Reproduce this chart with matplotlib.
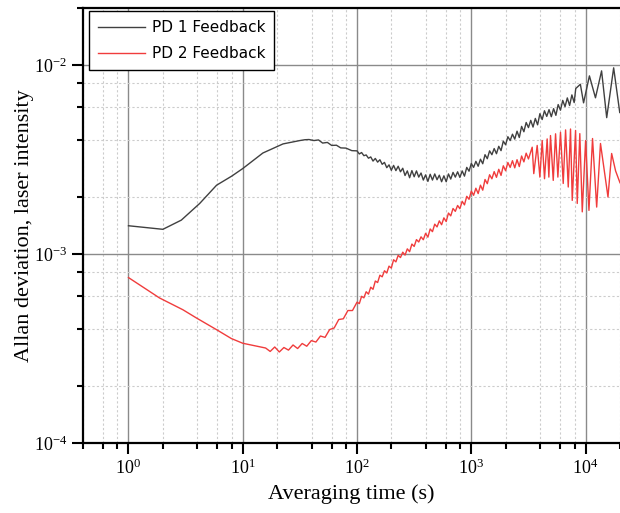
import numpy as np
import matplotlib
matplotlib.use("Agg")
import matplotlib.pyplot as plt
from matplotlib.ticker import LogLocator, NullFormatter

plt.rcParams['mathtext.fontset'] = 'custom'
plt.rcParams['mathtext.rm'] = 'Liberation Serif'
plt.rcParams['mathtext.it'] = 'Liberation Serif:italic'

# ---- data ----
mid_tau = [100, 104.7, 109.6, 114.8, 120.2, 125.9, 131.8, 138.0, 144.5, 151.4,
           158.5, 166.0, 173.8, 182.0, 190.5, 199.5, 208.9, 218.8, 229.1, 239.9,
           251.2, 263.0, 275.4, 288.4, 302.0, 316.2, 331.1, 346.7, 363.1, 380.2,
           398.1, 416.9, 436.5, 457.1, 478.6, 501.2, 524.8, 549.5, 575.4, 602.6,
           631.0, 660.7, 691.8, 724.4, 758.6, 794.3, 831.8, 871.0, 912.0, 955.0,
           1000, 1047, 1096, 1148, 1202, 1259, 1318, 1380, 1445, 1514,
           1585, 1660, 1738, 1820, 1905, 1995, 2089, 2188, 2291, 2399,
           2512, 2630, 2754, 2884, 3020, 3162, 3311, 3467, 3631, 3802,
           3981, 4169, 4365, 4571, 4786, 5012, 5248, 5495, 5754, 6026,
           6310, 6607, 6918, 7244, 7586, 7943]

pd1_tau_a = [1, 2, 2.9, 4.2, 5.9, 8, 10, 15, 22.5, 31.6, 35, 38, 42, 46, 50, 55, 60, 66, 72, 80, 90]
pd1_val_a = [14.1, 13.5, 15.1, 18.5, 23.1, 25.8, 28.3, 34.2, 38.2, 39.8, 40.2, 40.3, 39.8, 40.1, 38.6,
             38.9, 37.5, 37.6, 36.4, 36.3, 35.2]
pd1_val_b = [35.1, 33.8, 34.4, 33.1, 33.4, 32.1, 32.6, 31.0, 32.0, 30.6,
             31.5, 29.8, 30.5, 28.6, 29.6, 27.7, 29.4, 27.6, 29.1, 27.2,
             28.4, 26.0, 27.5, 25.3, 27.6, 25.6, 27.5, 25.5, 26.8, 24.6,
             26.2, 24.2, 26.4, 24.6, 26.5, 24.7, 26.1, 24.1, 25.9, 24.1,
             26.5, 24.9, 27.0, 25.5, 27.2, 25.4, 27.5, 25.8, 28.7, 27.4,
             30.1, 28.7, 30.9, 29.1, 31.7, 30.0, 33.5, 31.9, 35.1, 33.5,
             36.1, 33.9, 37.1, 35.2, 39.5, 37.8, 41.7, 39.8, 43.0, 40.5,
             44.6, 41.3, 47.3, 44.3, 49.6, 46.6, 50.9, 46.9, 52.1, 48.2,
             55.2, 51.4, 57.2, 53.4, 58.0, 53.2, 58.7, 54.1, 61.7, 57.6,
             64.9, 60.1, 66.9, 61.0, 69.4, 63.2]
pd1_tau_c = [8200, 9000, 9600, 10800, 12200, 13800, 15300, 17600, 19900]
pd1_val_c = [75.0, 79.0, 63.0, 87.5, 67.0, 93.0, 52.6, 96.5, 56.0]

pd2_tau_a = [1, 1.87, 2.99, 3.92, 5.88, 7.94, 10, 14.1,
             15.85, 17.38, 19.05, 20.89, 22.91, 25.12, 27.54, 30.20, 33.11, 36.31, 39.81, 43.65,
             47.86, 52.48, 57.54, 63.10, 69.18, 75.86, 83.18, 91.20]
pd2_val_a = [7.5, 5.85, 5.07, 4.59, 3.98, 3.57, 3.37, 3.23,
             3.18, 3.05, 3.22, 3.03, 3.20, 3.10, 3.30, 3.16, 3.36, 3.25, 3.48, 3.42,
             3.68, 3.62, 3.98, 4.06, 4.50, 4.54, 5.02, 5.02]
pd2_val_b = [5.56, 5.46, 5.97, 5.86, 6.31, 6.13, 6.67, 6.50, 7.19, 7.06,
             7.72, 7.57, 8.15, 7.93, 8.62, 8.42, 9.32, 9.08, 9.84, 9.57,
             10.22, 9.86, 10.64, 10.28, 11.28, 10.96, 11.91, 11.57, 12.32, 11.89,
             12.86, 12.27, 13.56, 13.12, 14.38, 13.9, 14.96, 14.28, 15.52, 14.84,
             16.46, 15.9, 17.4, 16.8, 18.05, 17.35, 18.99, 18.18, 20.18, 19.46,
             21.5, 20.43, 22.27, 20.86, 23.11, 21.75, 24.77, 23.53, 26.24, 24.98,
             27.26, 25.43, 28.04, 26.03, 29.26, 27.55, 30.46, 28.69, 31.14, 28.54,
             31.52, 28.99, 32.97, 30.69, 34.13, 31.8]
pd2_tau_c = [3410, 3520, 3770, 3980, 4170, 4370, 4610, 4770, 4930, 5210, 5460, 5720, 6030, 6370,
             6680, 7050, 7380, 7640, 8170, 8450, 8900, 9350, 10000, 10700, 11500, 12500, 13500,
             15700, 16900, 18300, 20000]
pd2_val_c = [36.7, 26.6, 37.5, 25.5, 39.8, 25.0, 40.6, 25.5, 42.3, 24.5, 43.2, 25.5, 44.0, 23.6,
             45.3, 22.6, 45.8, 19.2, 45.0, 18.5, 43.3, 16.7, 39.8, 17.0, 40.8, 17.7, 38.4,
             20.0, 34.0, 27.5, 23.8]
scale = 1e-4

pd1_tau = pd1_tau_a + mid_tau + pd1_tau_c
pd1_val = np.array(pd1_val_a + pd1_val_b + pd1_val_c) * scale
pd2_tau = pd2_tau_a + mid_tau[:len(pd2_val_b)] + pd2_tau_c
pd2_val = np.array(pd2_val_a + pd2_val_b + pd2_val_c) * scale

labels = ["PD 1 Feedback", "PD 2 Feedback"]
colors = ["#404040", "#f03c3c"]

fig = plt.figure(figsize=(6.2, 5.13), dpi=100)
ax = fig.add_axes([83/620, 1-443/513, 537/620, 435/513])

ax.plot(pd1_tau, pd1_val, color=colors[0], lw=1.0, label=labels[0])
ax.plot(pd2_tau, pd2_val, color=colors[1], lw=1.0, label=labels[1])

ax.set_xscale('log')
ax.set_yscale('log')
ax.set_xlim(0.4, 2.0e4)
ax.set_ylim(1e-4, 2e-2)

ax.xaxis.set_major_locator(LogLocator(base=10, numticks=10))
ax.xaxis.set_minor_locator(LogLocator(base=10, subs=[2, 4, 6, 8], numticks=20))
ax.yaxis.set_major_locator(LogLocator(base=10, numticks=10))
ax.yaxis.set_minor_locator(LogLocator(base=10, subs=[2, 4, 6, 8], numticks=20))
ax.xaxis.set_minor_formatter(NullFormatter())
ax.yaxis.set_minor_formatter(NullFormatter())

ax.grid(True, which='major', color='#8a8a8a', lw=1.0, ls='-')
ax.grid(True, which='minor', color='#cccccc', lw=0.8, ls=(0, (2, 2)))
ax.set_axisbelow(True)

for s in ['left', 'bottom', 'top']:
    ax.spines[s].set_linewidth(1.6)
    ax.spines[s].set_color('black')
ax.spines['right'].set_visible(False)

ax.tick_params(which='major', direction='out', length=8, width=1.5, labelsize=13,
               top=False, right=False)
ax.tick_params(which='minor', direction='out', length=4.5, width=1.5, top=False, right=False)
for lab in ax.get_xticklabels() + ax.get_yticklabels():
    lab.set_family('Liberation Serif')

ax.set_xlabel("Averaging time (s)", fontsize=16, family='Liberation Serif', labelpad=4)
ax.set_ylabel("Allan deviation, laser intensity", fontsize=16, family='Liberation Serif', labelpad=0)

leg = ax.legend(loc='upper left', bbox_to_anchor=(0.012, 0.992), frameon=True, fancybox=False,
                edgecolor='black', framealpha=1, prop={'family': 'DejaVu Sans', 'size': 11},
                handlelength=3.1, handletextpad=0.45, labelspacing=0.75, borderpad=0.55,
                borderaxespad=0)
leg.get_frame().set_linewidth(1.0)

fig.savefig("out.png", dpi=100)
